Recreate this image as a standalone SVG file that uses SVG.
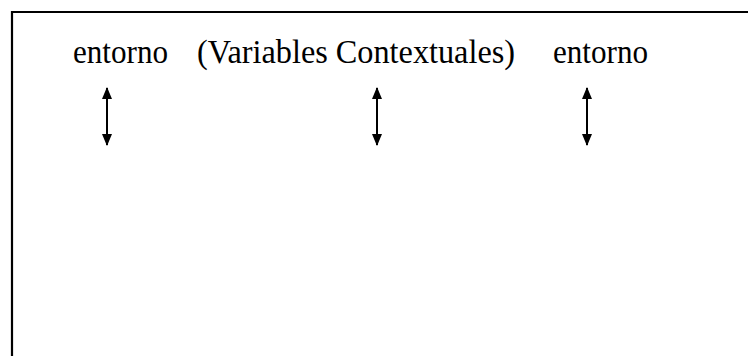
<svg xmlns="http://www.w3.org/2000/svg" width="748" height="356" viewBox="0 0 748 356">
<style>
.t{font-family:"Liberation Serif","Times New Roman",serif;font-size:33px;fill:#000}
.c{stroke:#000;stroke-width:2;fill:none}
.frame{stroke:#000;stroke-width:2.2;fill:none}
</style>
<defs>
<marker id="ah" viewBox="0 0 12 10" refX="11" refY="5" markerWidth="12" markerHeight="10" markerUnits="userSpaceOnUse" orient="auto-start-reverse">
<path d="M0,0 L12,5 L0,10 Z" fill="#000"/>
</marker>
</defs>
<rect width="748" height="356" fill="#fff"/>
<path class="frame" d="M12,356 V12 H748"/>
<g id="n1"><text class="t" x="73" y="63" textLength="95" lengthAdjust="spacingAndGlyphs">entorno</text></g>
<g id="n2"><text class="t" x="197" y="63" textLength="318" lengthAdjust="spacingAndGlyphs">(Variables Contextuales)</text></g>
<g id="n3"><text class="t" x="553" y="63" textLength="95" lengthAdjust="spacingAndGlyphs">entorno</text></g>
<g id="connectors">
<line class="c" x1="107" y1="88" x2="107" y2="145" marker-start="url(#ah)" marker-end="url(#ah)"/>
<line class="c" x1="377" y1="88" x2="377" y2="145" marker-start="url(#ah)" marker-end="url(#ah)"/>
<line class="c" x1="587" y1="88" x2="587" y2="145" marker-start="url(#ah)" marker-end="url(#ah)"/>
</g>
</svg>
